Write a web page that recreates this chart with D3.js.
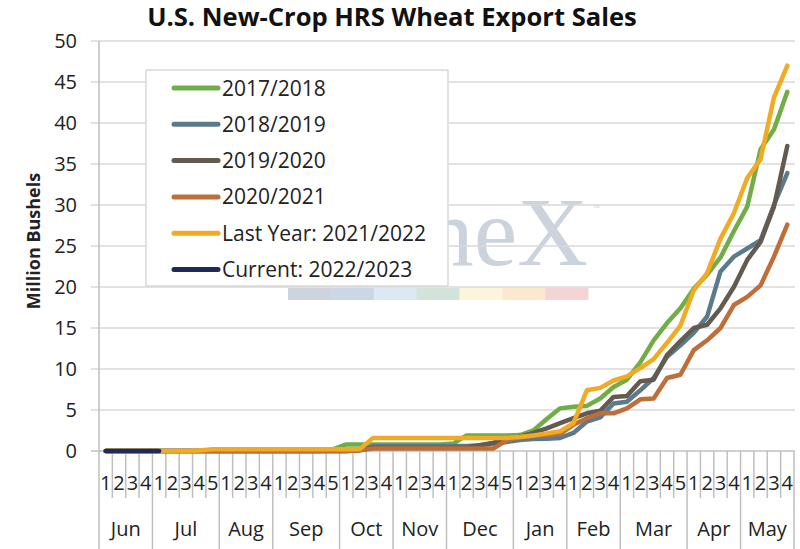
<!DOCTYPE html>
<html>
<head>
<meta charset="utf-8">
<script src="https://cdn.jsdelivr.net/npm/d3@7"></script>
<style>
  html, body { margin: 0; padding: 0; background: #fff; }
  svg { display: block; font-family: "Open Sans", sans-serif; }
</style>
</head>
<body>
<div id="chart"></div>
<script>
// ---------- DATA ----------
const MONTHS = ["Jun", "Jul", "Aug", "Sep", "Oct", "Nov", "Dec", "Jan", "Feb", "Mar", "Apr", "May"];
const WEEKS_PER_MONTH = [4, 5, 4, 5, 4, 4, 5, 4, 4, 5, 4, 4];

const Y_TICKS = [0, 5, 10, 15, 20, 25, 30, 35, 40, 45, 50];

const SERIES_NAMES = [
  "2017/2018",
  "2018/2019",
  "2019/2020",
  "2020/2021",
  "Last Year: 2021/2022",
  "Current: 2022/2023"
];
const SERIES_COLORS = ["#70ad47", "#5b7b8c", "#635a50", "#bd6e3a", "#f2aa23", "#1f2a5c"];

// million bushels, one value per week (Jun wk1 .. May wk4)
const S2017 = [
  0, 0, 0, 0, 0, 0, 0, 0, 0, 0, 0, 0, 0, 0, 0, 0, 0, 0.2,
  0.8, 0.8, 0.8, 0.8, 0.8, 0.8, 0.8, 0.8, 0.9, 1.9, 1.9, 1.9, 1.9,
  1.95, 2.5, 3.9, 5.2, 5.4, 5.5, 6.4, 7.8, 8.7, 10.8, 13.5, 15.6, 17.4,
  19.8, 21.5, 23.6, 26.8, 29.8, 36.8, 39.2, 43.8
];
const S2018 = [
  0, 0, 0, 0, 0, 0, 0, 0, 0, 0, 0, 0, 0, 0, 0, 0, 0, 0,
  0, 0.1, 0.6, 0.6, 0.6, 0.6, 0.6, 0.6, 0.6, 0.6, 0.7, 0.9, 1.1,
  1.35, 1.45, 1.5, 1.6, 2.2, 3.6, 4.1, 5.8, 6.0, 7.4, 8.9, 11.5, 12.9,
  14.4, 16.4, 21.9, 23.7, 24.7, 25.7, 30.0, 33.9
];
const S2019 = [
  0, 0, 0, 0, 0, 0, 0, 0, 0, 0, 0, 0, 0, 0, 0, 0, 0, 0,
  0, 0.1, 0.4, 0.4, 0.4, 0.4, 0.4, 0.4, 0.4, 0.4, 0.7, 1.0, 1.4,
  1.75, 2.2, 2.75, 3.4, 4.0, 4.6, 4.9, 6.6, 6.7, 8.5, 8.7, 11.7, 13.4,
  15.0, 15.4, 17.4, 20.0, 23.3, 25.5, 29.8, 37.2
];
const S2020 = [
  0, 0, 0, 0, 0, 0, 0, 0, 0, 0, 0, 0, 0, 0, 0, 0, 0, 0,
  0, 0.1, 0.3, 0.3, 0.3, 0.3, 0.3, 0.3, 0.3, 0.3, 0.3, 0.3, 1.3,
  1.7, 1.85, 1.95, 2.1, 3.2, 4.0, 4.6, 4.6, 5.2, 6.3, 6.4, 8.9, 9.3,
  12.3, 13.5, 15.0, 17.8, 18.8, 20.2, 23.7, 27.6
];
const S2021 = [
  0, 0, 0, 0, 0, 0, 0, 0.05, 0.2, 0.2, 0.2, 0.2, 0.2, 0.2, 0.2, 0.2, 0.2, 0.2,
  0.2, 0.2, 1.6, 1.6, 1.6, 1.6, 1.6, 1.6, 1.6, 1.6, 1.6, 1.6, 1.6,
  1.7, 1.9, 2.15, 2.4, 3.4, 7.4, 7.7, 8.6, 9.1, 10.1, 11.2, 13.2, 15.3,
  19.6, 21.7, 25.9, 29.0, 33.3, 35.6, 43.1, 47.0
];
const S2022 = [0, 0, 0, 0, 0];

const SERIES_VALUES = [S2017, S2018, S2019, S2020, S2021, S2022];

// watermark colour strip
const STRIP_COLORS = ["#cdd4de", "#cad8e6", "#dce9f4", "#d3e3da", "#fbf5dc", "#fce8cf", "#f4d5d5"];

// ---------- SCAFFOLD ----------
const width = 800, height = 549;
const plot = { left: 99, right: 794, top: 41, bottom: 451 };
const legendBox = { x: 146, y: 70, w: 302, h: 216 };

// flat list of weeks
const weeks = [];
MONTHS.forEach((m, mi) => {
  for (let w = 1; w <= WEEKS_PER_MONTH[mi]; w++) weeks.push({ month: m, week: w, idx: weeks.length });
});

const svg = d3.select("#chart").append("svg")
  .attr("width", width)
  .attr("height", height);

const x = d3.scaleBand()
  .domain(weeks.map(d => d.idx))
  .range([plot.left, plot.right]);
const xc = i => x(i) + x.bandwidth() / 2;

const y = d3.scaleLinear()
  .domain([0, 50])
  .range([plot.bottom, plot.top]);

// ---------- WATERMARK ----------
// only the part right of the legend box shows in the reference
svg.append("defs").append("clipPath")
  .attr("id", "wm-clip")
  .append("rect")
  .attr("x", legendBox.x + legendBox.w)
  .attr("y", 0)
  .attr("width", width)
  .attr("height", height);

const wm = svg.append("g").attr("class", "watermark");
const stripX = d3.scaleBand().domain(d3.range(STRIP_COLORS.length)).range([288, 588]);
wm.selectAll("rect")
  .data(STRIP_COLORS)
  .join("rect")
  .attr("x", (d, i) => stripX(i))
  .attr("y", 288)
  .attr("width", stripX.bandwidth() + 0.5)
  .attr("height", 12)
  .attr("fill", d => d);
wm.append("g")
  .attr("clip-path", "url(#wm-clip)")
  .append("text")
  .attr("x", 588)
  .attr("y", 265)
  .attr("text-anchor", "end")
  .attr("font-family", "Liberation Serif, DejaVu Serif, serif")
  .attr("font-size", 98)
  .attr("fill", "#cdd3dc")
  .text("neX");
wm.append("text")
  .attr("x", 593)
  .attr("y", 211)
  .attr("font-size", 9)
  .attr("fill", "#cdd3dc")
  .text("™");

// ---------- GRID & AXES ----------
svg.append("g")
  .selectAll("line")
  .data(Y_TICKS.filter(v => v > 0))
  .join("line")
  .attr("x1", plot.left - 8)
  .attr("x2", plot.right + 1)
  .attr("y1", d => y(d))
  .attr("y2", d => y(d))
  .attr("stroke", "#d9d9d9")
  .attr("stroke-width", 1.5);

svg.append("g")
  .selectAll("text")
  .data(Y_TICKS)
  .join("text")
  .attr("x", 77)
  .attr("y", d => y(d) + 7)
  .attr("text-anchor", "end")
  .attr("font-size", 20)
  .attr("fill", "#222")
  .text(d => d);

// y axis line + zero line
svg.append("line")
  .attr("x1", plot.left).attr("x2", plot.left)
  .attr("y1", plot.top).attr("y2", plot.bottom)
  .attr("stroke", "#bfbfbf").attr("stroke-width", 1.5);
svg.append("line")
  .attr("x1", plot.left - 8).attr("x2", plot.right + 1)
  .attr("y1", y(0)).attr("y2", y(0))
  .attr("stroke", "#bfbfbf").attr("stroke-width", 1.5);

// week boundaries: short ticks, month boundaries: long ones
const monthStarts = new Set();
let acc = 0;
WEEKS_PER_MONTH.forEach(n => { monthStarts.add(acc); acc += n; });
const boundaries = d3.range(weeks.length + 1);
svg.append("g")
  .selectAll("line")
  .data(boundaries)
  .join("line")
  .attr("x1", d => d < weeks.length ? x(d) : plot.right)
  .attr("x2", d => d < weeks.length ? x(d) : plot.right)
  .attr("y1", y(0))
  .attr("y2", d => (monthStarts.has(d) || d === weeks.length) ? height : 498)
  .attr("stroke", "#bfbfbf")
  .attr("stroke-width", 1.5);

svg.append("g")
  .selectAll("text")
  .data(weeks)
  .join("text")
  .attr("x", d => xc(d.idx))
  .attr("y", 490)
  .attr("text-anchor", "middle")
  .attr("font-size", 20)
  .attr("fill", "#222")
  .text(d => d.week);

const monthCenters = [];
acc = 0;
WEEKS_PER_MONTH.forEach((n, mi) => {
  monthCenters.push({ name: MONTHS[mi], cx: (x(acc) + x(acc + n - 1) + x.bandwidth()) / 2 });
  acc += n;
});
svg.append("g")
  .selectAll("text")
  .data(monthCenters)
  .join("text")
  .attr("x", d => d.cx)
  .attr("y", 536)
  .attr("text-anchor", "middle")
  .attr("font-size", 20)
  .attr("fill", "#222")
  .text(d => d.name);

// axis title
svg.append("text")
  .attr("transform", "translate(40,241) rotate(-90)")
  .attr("text-anchor", "middle")
  .attr("font-size", 18)
  .attr("font-weight", "bold")
  .attr("fill", "#222")
  .text("Million Bushels");

// chart title, fitted to the reference width
const title = svg.append("text")
  .attr("x", 392)
  .attr("y", 26)
  .attr("text-anchor", "middle")
  .attr("font-size", 22)
  .attr("font-weight", "bold")
  .attr("fill", "#111")
  .text("U.S. New-Crop HRS Wheat Export Sales");
const tw = title.node().getComputedTextLength();
title.attr("font-size", 22 * 490 / tw);

// ---------- LINES ----------
const line = d3.line()
  .x((d, i) => xc(i))
  .y(d => y(d));

svg.append("g")
  .selectAll("path")
  .data(SERIES_VALUES)
  .join("path")
  .attr("d", d => line(d))
  .attr("fill", "none")
  .attr("stroke", (d, i) => SERIES_COLORS[i])
  .attr("stroke-width", 4.5)
  .attr("stroke-linejoin", "round")
  .attr("stroke-linecap", "round");

// ---------- LEGEND ----------
const legend = svg.append("g").attr("class", "legend");
legend.append("rect")
  .attr("x", legendBox.x).attr("y", legendBox.y)
  .attr("width", legendBox.w).attr("height", legendBox.h)
  .attr("fill", "#fff")
  .attr("stroke", "#d9d9d9")
  .attr("stroke-width", 1.5);

const items = legend.selectAll(".item")
  .data(SERIES_NAMES)
  .join("g")
  .attr("class", "item")
  .attr("transform", (d, i) => `translate(0,${88 + i * 36.3})`);
items.append("line")
  .attr("x1", 174).attr("x2", 218)
  .attr("stroke", (d, i) => SERIES_COLORS[i])
  .attr("stroke-width", 5)
  .attr("stroke-linecap", "round");
items.append("text")
  .attr("x", 222)
  .attr("y", 7.5)
  .attr("font-size", 21)
  .attr("fill", "#222")
  .text(d => d);
</script>
</body>
</html>
